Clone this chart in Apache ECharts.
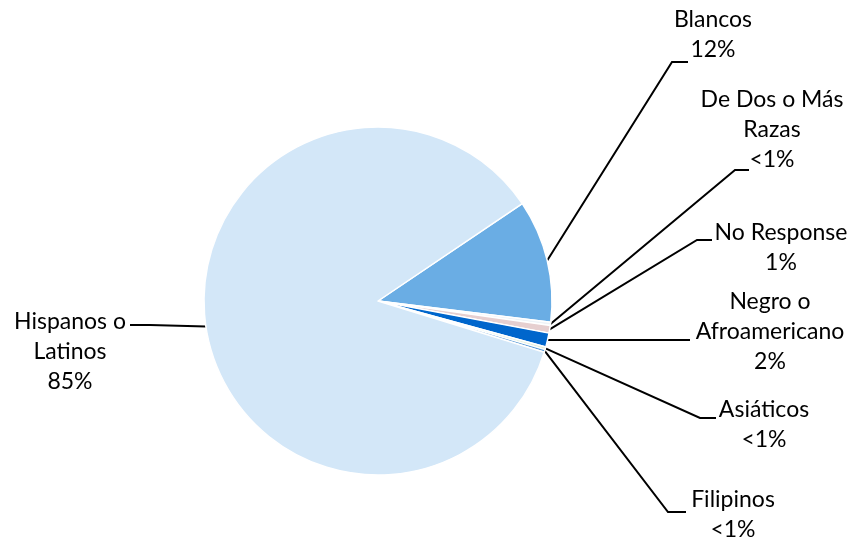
<!DOCTYPE html>
<html>
<head>
<meta charset="utf-8">
<script src="https://cdn.jsdelivr.net/npm/echarts@6/dist/echarts.min.js"></script>
<style>
html,body{margin:0;padding:0;background:#fff;}
#chart{width:855px;height:539px;}
</style>
</head>
<body>
<div id="chart"></div>
<script>
// ---- data ----
const categories = ['Blancos', 'De Dos o Más Razas', 'No Response', 'Negro o Afroamericano', 'Asiáticos', 'Filipinos', 'Hispanos o Latinos'];
const values = [11.4, 0.3, 0.7, 1.3, 0.25, 0.25, 85.8];
const percentLabels = ['12%', '<1%', '1%', '2%', '<1%', '<1%', '85%'];
const labelTexts = ['Blancos', 'De Dos o Más\nRazas', 'No Response', 'Negro o\nAfroamericano', 'Asiáticos', 'Filipinos', 'Hispanos o\nLatinos'];

// ---- styles / layout ----
const colors = ['#6aade4', '#eef3f8', '#e6cfd0', '#0066cc', '#e2efda', '#5b9bd5', '#d3e7f8'];
// label placement: [centerX, topY, elbowX, elbowY, endX]
const labelPlace = [
  [713, 5, 672, 62, 688],
  [772, 85, 735, 170, 749],
  [781, 218, 697, 240, 712],
  [770, 287, 620, 341, 690],
  [764, 395, 700, 418, 716],
  [733, 485, 668, 512, 686],
  [70, 307, 150, 325, 130]
];

const chart = echarts.init(document.getElementById('chart'));
chart.setOption({
  animation: false,
  backgroundColor: '#fff',
  series: [{
    type: 'pie',
    center: [378, 301],
    radius: 174,
    startAngle: 34,
    clockwise: true,
    avoidLabelOverlap: false,
    itemStyle: { borderColor: '#fff', borderWidth: 1.5 },
    label: {
      show: true,
      color: '#000',
      fontFamily: 'Lato',
      fontSize: 23,
      lineHeight: 30,
      align: 'center',
      formatter: function (p) { return labelTexts[p.dataIndex] + '\n' + percentLabels[p.dataIndex]; }
    },
    labelLine: { show: true, lineStyle: { color: '#000', width: 2 } },
    emphasis: { disabled: true },
    labelLayout: function (params) {
      const i = params.dataIndex;
      const lp = labelPlace[i];
      const p0 = params.labelLinePoints[0];
      const pts = (i === 3) ? [p0, [lp[4], p0[1]], [lp[4], p0[1]]] : [p0, [lp[2], lp[3]], [lp[4], lp[3]]];
      return {
        x: lp[0],
        y: lp[1],
        align: 'center',
        verticalAlign: 'top',
        labelLinePoints: pts
      };
    },
    data: categories.map(function (c, i) {
      return { name: c, value: values[i], itemStyle: { color: colors[i] } };
    })
  }]
});
</script>
</body>
</html>
